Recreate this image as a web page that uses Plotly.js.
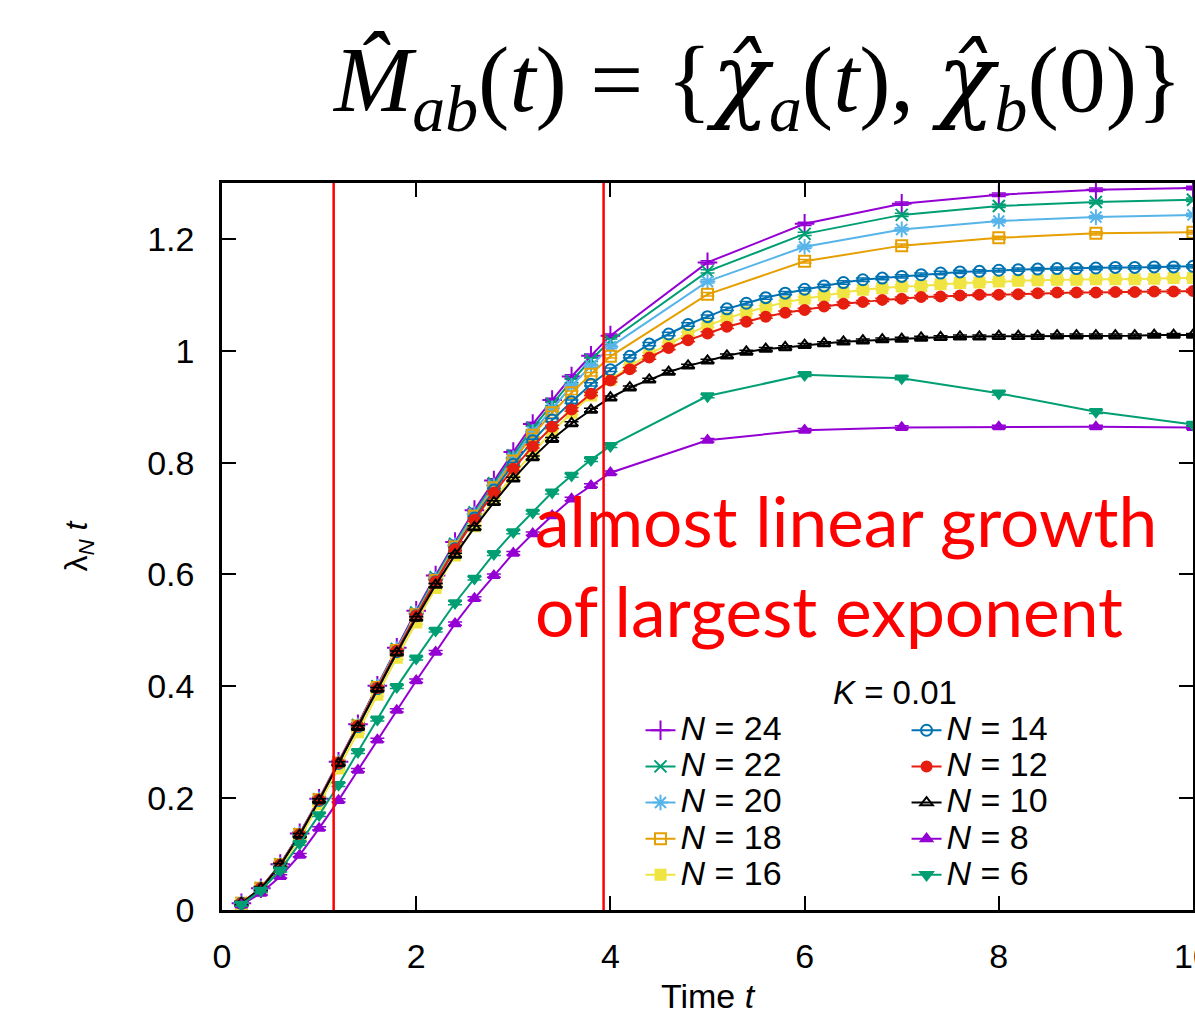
<!DOCTYPE html>
<html>
<head>
<meta charset="utf-8">
<script src="https://cdn.plot.ly/plotly-3.0.1.min.js"></script>
<style>
html, body { margin: 0; padding: 0; background: #ffffff; }
#chart { width: 1195px; height: 1015px; }
</style>
</head>
<body>
<div id="chart"></div>
<script>
// ---- data ----
const tSparse = [0.2, 0.4, 0.6, 0.8, 1.0, 1.2, 1.4, 1.6, 1.8, 2.0, 2.2, 2.4, 2.6, 2.8, 3.0, 3.2, 3.4, 3.6, 3.8, 4.0, 5, 6, 7, 8, 9, 10];
const tDense = [0.2, 0.4, 0.6, 0.8, 1.0, 1.2, 1.4, 1.6, 1.8, 2.0, 2.2, 2.4, 2.6, 2.8, 3.0, 3.2, 3.4, 3.6, 3.8, 4.0,
                4.2, 4.4, 4.6, 4.8, 5.0, 5.2, 5.4, 5.6, 5.8, 6.0, 6.2, 6.4, 6.6, 6.8, 7.0, 7.2, 7.4, 7.6, 7.8, 8.0,
                8.2, 8.4, 8.6, 8.8, 9.0, 9.2, 9.4, 9.6, 9.8, 10.0];

const yN24 = [0.012, 0.039, 0.082, 0.137, 0.199, 0.265, 0.332, 0.401, 0.469, 0.535, 0.598, 0.658, 0.715, 0.768, 0.819, 0.869, 0.912, 0.954, 0.991, 1.027, 1.158, 1.227, 1.263, 1.279, 1.288, 1.291];
const yN22 = [0.012, 0.039, 0.082, 0.136, 0.198, 0.264, 0.331, 0.400, 0.467, 0.532, 0.595, 0.655, 0.711, 0.763, 0.813, 0.862, 0.905, 0.946, 0.984, 1.018, 1.142, 1.209, 1.243, 1.259, 1.266, 1.270];
const yN20 = [0.012, 0.039, 0.081, 0.136, 0.198, 0.264, 0.330, 0.399, 0.466, 0.530, 0.592, 0.652, 0.708, 0.759, 0.808, 0.855, 0.897, 0.937, 0.973, 1.007, 1.124, 1.186, 1.217, 1.232, 1.239, 1.243];
const yN18 = [0.012, 0.039, 0.081, 0.135, 0.197, 0.263, 0.329, 0.398, 0.464, 0.528, 0.589, 0.649, 0.704, 0.755, 0.803, 0.849, 0.889, 0.925, 0.958, 0.990, 1.101, 1.160, 1.188, 1.202, 1.210, 1.212];
const yN16 = [0.011, 0.035, 0.076, 0.128, 0.189, 0.253, 0.318, 0.385, 0.451, 0.514, 0.576, 0.634, 0.686, 0.734, 0.778, 0.818, 0.855, 0.889, 0.920, 0.948,
              0.972, 0.994, 1.012, 1.030, 1.045, 1.058, 1.069, 1.078, 1.087, 1.093, 1.099, 1.104, 1.109, 1.112, 1.115, 1.116, 1.119, 1.121, 1.122, 1.124,
              1.125, 1.126, 1.127, 1.127, 1.128, 1.128, 1.128, 1.129, 1.130, 1.130];
const yN14 = [0.012, 0.038, 0.080, 0.134, 0.196, 0.262, 0.328, 0.396, 0.462, 0.526, 0.587, 0.646, 0.701, 0.751, 0.797, 0.839, 0.876, 0.909, 0.940, 0.966,
              0.990, 1.012, 1.030, 1.047, 1.061, 1.075, 1.085, 1.095, 1.103, 1.110, 1.116, 1.122, 1.127, 1.130, 1.133, 1.136, 1.139, 1.141, 1.142, 1.144,
              1.145, 1.146, 1.147, 1.147, 1.148, 1.149, 1.149, 1.150, 1.150, 1.151];
const yN12 = [0.012, 0.039, 0.081, 0.135, 0.197, 0.263, 0.329, 0.397, 0.463, 0.526, 0.587, 0.645, 0.698, 0.746, 0.789, 0.829, 0.864, 0.895, 0.923, 0.947,
              0.967, 0.988, 1.005, 1.019, 1.031, 1.043, 1.052, 1.061, 1.068, 1.073, 1.079, 1.084, 1.087, 1.091, 1.093, 1.096, 1.097, 1.099, 1.100, 1.100,
              1.101, 1.103, 1.104, 1.104, 1.104, 1.105, 1.105, 1.106, 1.106, 1.107];
const yN10 = [0.012, 0.038, 0.080, 0.134, 0.196, 0.262, 0.327, 0.395, 0.460, 0.522, 0.581, 0.635, 0.684, 0.729, 0.771, 0.809, 0.842, 0.870, 0.894, 0.916,
              0.934, 0.948, 0.962, 0.973, 0.982, 0.991, 0.998, 1.003, 1.006, 1.010, 1.013, 1.016, 1.018, 1.020, 1.021, 1.023, 1.024, 1.025, 1.025, 1.026,
              1.026, 1.026, 1.027, 1.027, 1.027, 1.027, 1.027, 1.028, 1.028, 1.028];
const yN8  = [0.009, 0.030, 0.060, 0.098, 0.146, 0.196, 0.250, 0.304, 0.357, 0.410, 0.461, 0.512, 0.557, 0.598, 0.638, 0.673, 0.705, 0.735, 0.759, 0.782, 0.840, 0.858, 0.863, 0.864, 0.864, 0.863];
const yN6  = [0.010, 0.035, 0.071, 0.119, 0.170, 0.224, 0.283, 0.341, 0.399, 0.450, 0.500, 0.549, 0.593, 0.637, 0.676, 0.711, 0.747, 0.777, 0.805, 0.830, 0.919, 0.957, 0.951, 0.924, 0.891, 0.868];

const sizeLabels = ['24', '22', '20', '18', '16', '14', '12', '10', '8', '6'];
const redLineTimes = [1.15, 3.93];

// ---- styles ----
const seriesSpec = [
  {x: tSparse, y: yN24, color: '#9400d3', symbol: 'cross-thin-open', size: 14, legend: 'legend'},
  {x: tSparse, y: yN22, color: '#009e73', symbol: 'x-thin-open', size: 12, legend: 'legend'},
  {x: tSparse, y: yN20, color: '#56b4e9', symbol: 'asterisk-open', size: 13, legend: 'legend'},
  {x: tSparse, y: yN18, color: '#e69f00', symbol: 'square-open', size: 11, legend: 'legend'},
  {x: tDense,  y: yN16, color: '#f0e442', symbol: 'square', size: 10, legend: 'legend'},
  {x: tDense,  y: yN14, color: '#0072b2', symbol: 'circle-open', size: 11, legend: 'legend2'},
  {x: tDense,  y: yN12, color: '#e51e10', symbol: 'circle', size: 10, legend: 'legend2'},
  {x: tDense,  y: yN10, color: '#000000', symbol: 'triangle-up-open', size: 11, legend: 'legend2'},
  {x: tSparse, y: yN8,  color: '#9400d3', symbol: 'triangle-up', size: 10, legend: 'legend2'},
  {x: tSparse, y: yN6,  color: '#009e73', symbol: 'triangle-down', size: 11, legend: 'legend2'}
];

const SANS = 'Liberation Sans, Arial, Helvetica, sans-serif';

const traces = seriesSpec.map((s, i) => ({
  type: 'scatter',
  mode: 'lines+markers',
  x: s.x,
  y: s.y,
  name: '<span style="font-size:34px"><i>N</i> = ' + sizeLabels[i] + '</span>',
  legend: s.legend,
  line: {color: s.color, width: 2},
  marker: {symbol: s.symbol, size: s.size, color: s.color, line: {color: s.color, width: 2}},
  error_y: {type: 'constant', value: 0.003, width: 7, thickness: 1.5, color: s.color},
  hoverinfo: 'x+y+name'
}));

const shapes = redLineTimes.map(t => ({
  type: 'line', xref: 'x', yref: 'paper', x0: t, x1: t, y0: 0, y1: 1,
  line: {color: '#ff0000', width: 2.5}, layer: 'above'
}));

const axisCommon = {
  ticks: 'inside', ticklen: 14, tickwidth: 1.5, tickcolor: '#000',
  showline: true, linewidth: 2.5, linecolor: '#000', mirror: 'ticks',
  showgrid: false, zeroline: false, automargin: false,
  ticklabeloverflow: 'allow',
  tickfont: {family: SANS, size: 34, color: '#000'}
};

const chi = '<span style="font-family:DejaVu Serif">\u03C7\u0302</span>';

const layout = {
  width: 1195, height: 1015,
  margin: {l: 222, r: 2, t: 183, b: 105},
  paper_bgcolor: '#ffffff', plot_bgcolor: '#ffffff',
  showlegend: true,
  xaxis: Object.assign({}, axisCommon, {
    range: [0, 10], tick0: 0, dtick: 2, ticklabelstandoff: 14,
    title: {text: 'Time <i>t</i>', font: {family: SANS, size: 34, color: '#000'}, standoff: 18}
  }),
  yaxis: Object.assign({}, axisCommon, {
    range: [0, 1.3], tick0: 0, dtick: 0.2, ticklabelstandoff: 18,
    title: {text: 'λ<sub><i>N</i></sub> <i>t</i>', font: {family: SANS, size: 32, color: '#000'}, standoff: 50}
  }),
  legend: {
    x: 0.431, xanchor: 'left', y: 0.279, yanchor: 'top',
    bgcolor: 'rgba(0,0,0,0)', borderwidth: 0,
    font: {family: SANS, size: 25.5, color: '#000'}
  },
  legend2: {
    x: 0.705, xanchor: 'left', y: 0.279, yanchor: 'top',
    bgcolor: 'rgba(0,0,0,0)', borderwidth: 0,
    font: {family: SANS, size: 25.5, color: '#000'}
  },
  shapes: shapes,
  annotations: [
    {
      xref: 'paper', yref: 'paper', x: 0.111, y: 1.135, xanchor: 'left', yanchor: 'middle',
      showarrow: false,
      text: '<i>M\u0302</i><sub><i>ab</i></sub>(<i>t</i>) = {<i>' + chi + '</i><sub><i>a</i></sub>(<i>t</i>), <i>' + chi + '</i><sub><i>b</i></sub>(0)}',
      font: {family: 'Liberation Serif, DejaVu Serif, serif', size: 94, color: '#000'}
    },
    {
      xref: 'paper', yref: 'paper', x: 0.3203, y: 0.4746, xanchor: 'left', yanchor: 'middle', align: 'left',
      showarrow: false,
      text: 'almost linear growth<br>of largest exponent',
      font: {family: 'Lato, Open Sans, sans-serif', size: 69.5, color: '#ff0000'}
    },
    {
      xref: 'paper', yref: 'paper', x: 0.693, y: 0.2985, xanchor: 'center', yanchor: 'middle',
      showarrow: false,
      text: '<i>K</i> = 0.01',
      font: {family: SANS, size: 33, color: '#000'}
    }
  ]
};

Plotly.newPlot('chart', traces, layout, {displayModeBar: false, responsive: false});
</script>
</body>
</html>
